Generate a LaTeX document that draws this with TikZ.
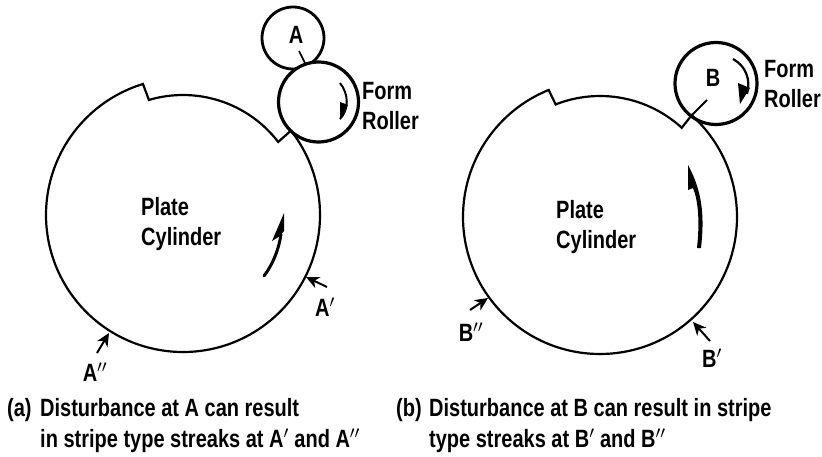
\documentclass[tikz,border=0pt]{standalone}
\usepackage{fontspec}
\setmainfont[FakeStretch=0.8]{Liberation Sans}
\usetikzlibrary{arrows.meta}
\tikzset{
    cylinder/.style={line width=2.2pt, line join=miter},
    roller/.style={line width=3.2pt},
    pointer/.style={line width=2pt, -{Stealth[length=13pt, width=12pt, inset=4pt]}},
    lbl/.style={anchor=north west, inner sep=0pt, align=left,
        font=\fontsize{25}{30}\selectfont\bfseries},
    caption/.style={lbl, font=\fontsize{25}{31}\selectfont\bfseries}
}
\begin{document}
\begin{tikzpicture}[x=1pt, y=1pt]
    \useasboundingbox (0,0) rectangle (822,456);

    % Plate cylinder (a)
    \begin{scope}[shift={(183,241)}]
        \draw[cylinder] (38:137) arc[start angle=38, end angle=-253, radius=137]
            -- (106.5:120) arc[start angle=106.5, end angle=37.5, radius=120] -- cycle;
    \end{scope}

    % Rollers (a)
    \draw[line width=2.8pt, fill=white] (293,418) circle (31);
    \draw[roller, fill=white] (318.5,354) circle (40);
    \coordinate (tickAa) at (299,405);
    \coordinate (tickAb) at (305,393);
    \draw[line width=1.6pt] (tickAa) -- (tickAb);
    \node[lbl, anchor=center] (labA) at (296,421) {A};
    \node[lbl] (formA) at (362,374) {Form\\Roller};

    % Rotation arrows (a)
    \draw[line width=2pt] (340,373) .. controls (349,362) and (349,346) .. (340,337);
    \fill (340,354) -- (348,351) -- (340,336) -- cycle;
    \draw[line width=3pt, line cap=round] (264,180) .. controls (273,192) and (279,207) .. (281,222);
    \fill (284,243) -- (272,215) -- (280,220) -- (284,225) -- cycle;

    \node[lbl] (plateA) at (141,259) {Plate\\Cylinder};

    % Streak positions (a)
    \coordinate (fromAp) at (327,169);
    \coordinate (toAp) at (306,179);
    \draw[pointer] (fromAp) -- (toAp);
    \node[lbl, anchor=center] (labAp) at (325,149) {A$'$};
    \coordinate (fromApp) at (97,103);
    \coordinate (toApp) at (109,123);
    \draw[pointer] (fromApp) -- (toApp);
    \node[lbl, anchor=center] (labApp) at (95,84) {A$''$};

    % Plate cylinder (b)
    \begin{scope}[shift={(600,239)}]
        \draw[cylinder] (48:137) arc[start angle=48, end angle=-248, radius=137]
            -- (111.5:121) arc[start angle=111.5, end angle=47.5, radius=121] -- cycle;
    \end{scope}

    % Roller (b)
    \draw[roller] (716,372.5) circle (41);
    \coordinate (tickBa) at (707,356);
    \coordinate (tickBb) at (692,341);
    \draw[line width=1.8pt] (tickBa) -- (tickBb);
    \node[lbl, anchor=center] (labB) at (713,378) {B};
    \node[lbl] (formB) at (764,396) {Form\\Roller};

    % Rotation arrows (b)
    \draw[line width=2.2pt] (733,397) .. controls (746,390) and (751,376) .. (747,362);
    \fill (738,373) -- (750,368) -- (740,352) -- cycle;
    \fill (688,291) -- (688,266) -- (693,268)
        .. controls (698,256) and (700,235) .. (697,208)
        -- (701,208) .. controls (704,235) and (704,262) .. (688,291) -- cycle;

    \node[lbl] (plateB) at (556,256) {Plate\\Cylinder};

    % Streak positions (b)
    \coordinate (fromBp) at (710,115);
    \coordinate (toBp) at (693,134);
    \draw[pointer] (fromBp) -- (toBp);
    \node[lbl, anchor=center] (labBp) at (712,98) {B$'$};
    \coordinate (fromBpp) at (470,146);
    \coordinate (toBpp) at (488,158);
    \draw[pointer] (fromBpp) -- (toBpp);
    \node[lbl, anchor=center] (labBpp) at (471,124) {B$''$};

    % Captions
    \node[caption] (markA) at (7,58) {(a)};
    \node[caption] (captA) at (40,58) {Disturbance at A can result\\in stripe type streaks at A$'$ and A$''$};
    \node[caption] (markB) at (396,58) {(b)};
    \node[caption] (captB) at (429,58) {Disturbance at B can result in stripe\\type streaks at B$'$ and B$''$};
\end{tikzpicture}
\end{document}
